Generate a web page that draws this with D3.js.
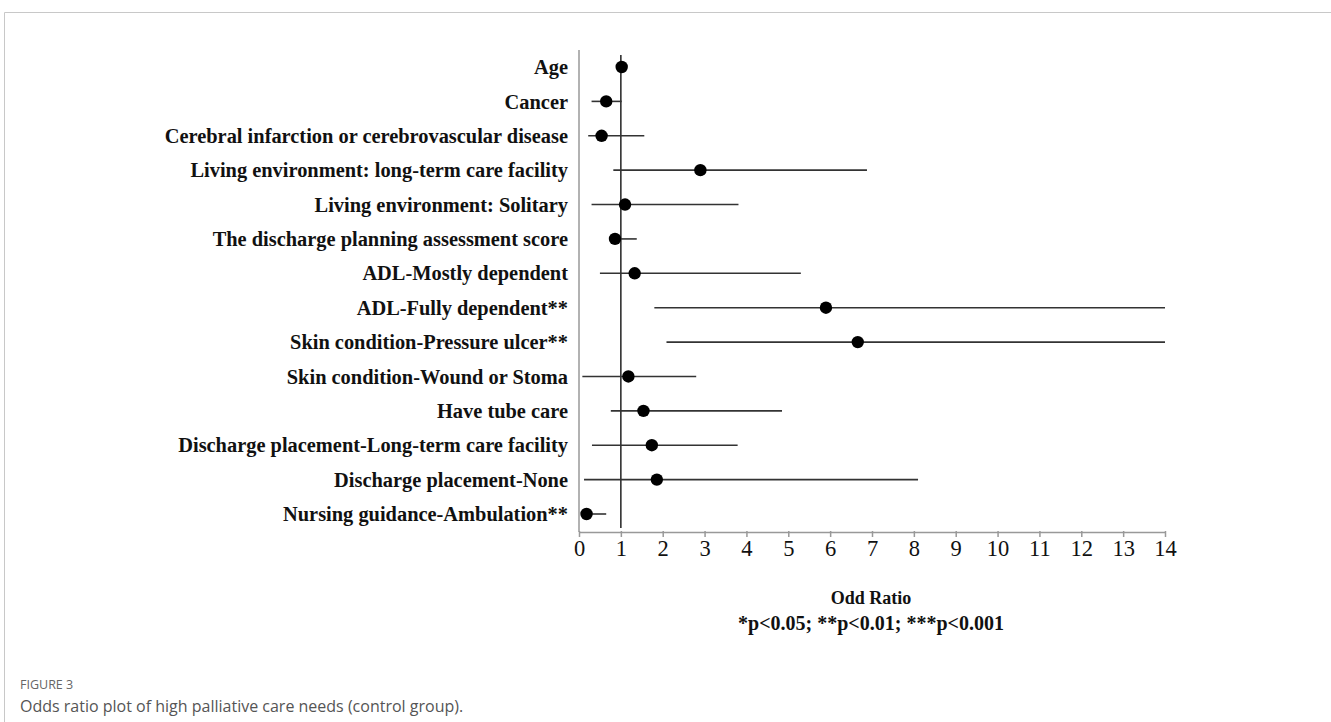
<!DOCTYPE html>
<html>
<head>
<meta charset="utf-8">
<title>Odds ratio plot</title>
<style>
  body { margin: 0; background: #fff; }
  svg { display: block; }
</style>
<script src="https://d3js.org/d3.v7.min.js"></script>
</head>
<body>
<svg id="chart" width="1331" height="722"></svg>
<script>

// row labels, top to bottom
var labels = [
  "Age",
  "Cancer",
  "Cerebral infarction or cerebrovascular disease",
  "Living environment: long-term care facility",
  "Living environment: Solitary",
  "The discharge planning assessment score",
  "ADL-Mostly dependent",
  "ADL-Fully dependent**",
  "Skin condition-Pressure ulcer**",
  "Skin condition-Wound or Stoma",
  "Have tube care",
  "Discharge placement-Long-term care facility",
  "Discharge placement-None",
  "Nursing guidance-Ambulation**"
];
// odds ratio and 95% CI
var oddsRatio = [1.02, 0.65, 0.54, 2.90, 1.10, 0.86, 1.33, 5.90, 6.66, 1.18, 1.54, 1.74, 1.86, 0.18];
var ciLow     = [0.98, 0.30, 0.22, 0.82, 0.30, 0.80, 0.50, 1.80, 2.09, 0.08, 0.76, 0.31, 0.12, 0.10];
var ciHigh    = [1.06, 1.02, 1.56, 6.88, 3.81, 1.38, 5.30, 14.0, 14.0, 2.80, 4.85, 3.79, 8.10, 0.65];
var xTicks = d3.range(0, 15);

var svg = d3.select("#chart");

// panel frame (open on right and bottom, like the page crop)
svg.append("path")
  .attr("d", "M4.5,722 L4.5,12.5 L1331,12.5")
  .attr("fill", "none")
  .attr("stroke", "#c8c8c8")
  .attr("stroke-width", 1);

var x = d3.scaleLinear().domain([0, 14]).range([579, 1165]);
var y = d3.scalePoint().domain(labels).range([67, 514]);

// axes
var xAxis = svg.append("g")
  .attr("transform", "translate(0,532)")
  .call(d3.axisBottom(x).tickValues(xTicks).tickSize(6).tickSizeOuter(0).tickFormat(d3.format("d")));
xAxis.select(".domain").attr("stroke", "#999").attr("stroke-width", 1.5);
xAxis.selectAll(".tick line").attr("stroke", "#999").attr("stroke-width", 1.5).attr("y1", -1).attr("y2", 5);
xAxis.selectAll(".tick text")
  .attr("y", 8)
  .attr("font-family", "'Liberation Serif', 'Times New Roman', serif")
  .attr("font-size", 22.5)
  .attr("fill", "#111");

svg.append("line")
  .attr("x1", x(0)).attr("x2", x(0))
  .attr("y1", 50).attr("y2", 532)
  .attr("stroke", "#999").attr("stroke-width", 1.5);

// reference line at OR = 1
svg.append("line")
  .attr("x1", x(1)).attr("x2", x(1))
  .attr("y1", 55).attr("y2", 528)
  .attr("stroke", "#222").attr("stroke-width", 1.5);

// row labels
svg.append("g").selectAll("text")
  .data(labels)
  .join("text")
    .attr("x", 568)
    .attr("y", function(d) { return y(d); })
    .attr("dy", "0.35em")
    .attr("text-anchor", "end")
    .attr("font-family", "'Liberation Serif', 'Times New Roman', serif")
    .attr("font-weight", "bold")
    .attr("font-size", 20.4)
    .attr("fill", "#111")
    .text(function(d) { return d; });

// CI whiskers
svg.append("g").selectAll("line")
  .data(labels)
  .join("line")
    .attr("x1", function(d, i) { return x(ciLow[i]); })
    .attr("x2", function(d, i) { return x(ciHigh[i]); })
    .attr("y1", function(d) { return y(d); })
    .attr("y2", function(d) { return y(d); })
    .attr("stroke", "#333")
    .attr("stroke-width", 1.6);

// points
svg.append("g").selectAll("circle")
  .data(labels)
  .join("circle")
    .attr("cx", function(d, i) { return x(oddsRatio[i]); })
    .attr("cy", function(d) { return y(d); })
    .attr("r", 6.2)
    .attr("fill", "#000");

// axis title and footnote
svg.append("text")
  .attr("x", 871).attr("y", 604)
  .attr("text-anchor", "middle")
  .attr("font-family", "'Liberation Serif', 'Times New Roman', serif")
  .attr("font-weight", "bold")
  .attr("font-size", 18)
  .attr("fill", "#111")
  .text("Odd Ratio");

svg.append("text")
  .attr("x", 871).attr("y", 630)
  .attr("text-anchor", "middle")
  .attr("font-family", "'Liberation Serif', 'Times New Roman', serif")
  .attr("font-weight", "bold")
  .attr("font-size", 20)
  .attr("fill", "#111")
  .text("*p<0.05; **p<0.01; ***p<0.001");

// caption
svg.append("text")
  .attr("x", 20).attr("y", 689)
  .attr("font-family", "'Open Sans', 'Noto Sans', sans-serif")
  .attr("font-size", 12.5)
  .attr("fill", "#666")
  .text("FIGURE 3");

svg.append("text")
  .attr("x", 20).attr("y", 712)
  .attr("font-family", "'Open Sans', 'Noto Sans', sans-serif")
  .attr("font-size", 16)
  .attr("fill", "#555")
  .text("Odds ratio plot of high palliative care needs (control group).");

</script>
</body>
</html>
